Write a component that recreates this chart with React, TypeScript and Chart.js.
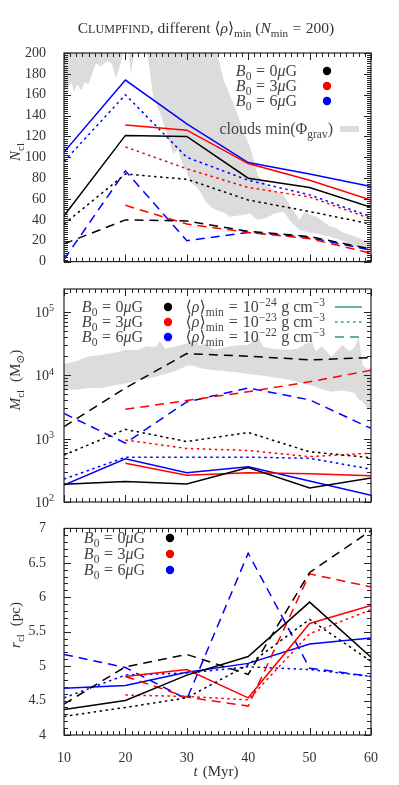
import React, { useEffect, useRef } from 'react';
import { Chart, registerables } from 'chart.js';
Chart.register(...registerables);

// ---------- data ----------
const T = [10, 20, 30, 40, 50, 60];
const B_LABELS = ['0', '3', '6'];
const B_COLORS = ['#000000', '#ff0000', '#0000ff'];
const RHO_EXP = ['24', '23', '22'];

// Panel 1: N_cl  (low = 1e-24, mid = 1e-23, high = 1e-22)
const N_B0_low = [44, 121, 120, 80, 71, 52];
const N_B3_low = [null, 131, 126, 94, 78, 59];
const N_B6_low = [105, 174, 132, 95, 84, 72];
const N_B0_mid = [36, 84, 79, 59, 48, 36];
const N_B3_mid = [null, 110, 89, 71, 62, 41];
const N_B6_mid = [96, 160, 100, 78, 64, 43];
const N_B0_high = [17, 40, 39, 29, 24, 12];
const N_B3_high = [null, 54, 36, 28, 22, 8];
const N_B6_high = [2, 87, 20, 28, 23, 11];

const cloud1T = [10, 10.4, 10.8, 11.2, 11.6, 12.2, 12.8, 13.4, 14, 14.6, 15.2, 16, 17, 17.8, 18.4, 19, 19.5, 20, 20.5, 20.9, 21.3, 21.7, 23.2, 23.7, 24.5, 25.6, 26.8, 27.8, 28.5, 29.2, 30, 30.8, 31.5, 32.3, 33, 34, 34.6, 35, 36, 37, 38.2, 39.2, 40.3, 41, 41.6, 43, 44.3, 45.7, 47, 48.4, 49.2, 50, 51.2, 52.3, 53.3, 54.4, 55.4, 57, 58.7, 60];
const cloud1Lo = [175, 158, 168, 172, 163, 170, 164, 172, 170, 180, 190, 187, 192, 190, 176, 185, 197, 205, 200, 180, 195, 205, 205, 196, 158, 143, 122, 103, 108, 95, 85, 75, 72, 66, 58, 52, 50, 49, 47, 43, 44, 45, 46, 42, 40, 42, 46, 48, 38, 30, 29, 28, 27, 25, 24, 22, 20, 15, 12, 10];
const cloud1Hi = [230, 230, 230, 230, 230, 230, 230, 230, 230, 230, 230, 230, 230, 230, 230, 230, 230, 230, 230, 230, 230, 230, 230, 230, 230, 230, 230, 230, 230, 230, 230, 230, 230, 230, 230, 230, 215, 198, 174, 160, 143, 125, 110, 95, 82, 74, 68, 64, 52, 40, 48, 45, 43, 38, 34, 32, 28, 25, 21, 19];

// Panel 2: M_cl (Msun)
const M_B0_low = [190, 210, 192, 350, 166, 240];
const M_B3_low = [null, 410, 265, 290, 280, 260];
const M_B6_low = [185, 480, 290, 360, 215, 128];
const M_B0_mid = [550, 1400, 900, 1250, 620, 500];
const M_B3_mid = [null, 950, 700, 650, 520, 590];
const M_B6_mid = [230, 510, 510, 510, 490, 330];
const M_B0_high = [1550, 6300, 22000, 20000, 17500, 19000];
const M_B3_high = [null, 2900, 4000, 5500, 7900, 12000];
const M_B6_high = [2500, 850, 3800, 6300, 4100, 1450];

const cloud2T = [10, 12, 14, 16, 18, 20, 22, 23.5, 25, 25.6, 26.5, 28, 30, 31.2, 32, 33, 34.5, 36, 38, 40, 41.6, 42.5, 44, 46, 48, 49.5, 50.4, 51, 52, 53.6, 55.3, 56.5, 57.3, 58, 58.7, 59.4, 60];
const cloud2Lo = [5900, 5900, 6300, 6300, 6900, 7400, 8300, 8900, 9500, 10000, 10500, 11500, 14100, 14100, 13200, 12600, 12000, 11700, 11200, 10500, 10000, 9800, 9300, 8700, 7900, 7200, 6900, 6600, 6000, 5500, 5750, 5500, 5250, 4200, 3800, 3000, 3150];
const cloud2Hi = [15100, 16600, 20000, 20900, 22400, 25100, 25100, 28800, 28200, 34700, 26300, 28200, 31600, 38000, 29500, 31600, 25100, 27500, 29500, 30200, 39800, 28200, 26300, 25100, 26300, 31600, 33100, 24000, 28800, 19500, 30200, 24000, 27500, 39800, 14100, 12600, 13200];

// Panel 3: r_cl (pc)
const R_B0_low = [4.37, 4.5, 4.87, 5.14, 5.93, 5.13];
const R_B3_low = [null, 4.85, 4.95, 4.54, 5.62, 5.88];
const R_B6_low = [4.68, 4.72, 4.91, 5.04, 5.32, 5.41];
const R_B0_mid = [4.27, 4.4, 4.54, 5.02, 5.68, 5.07];
const R_B3_mid = [null, 4.58, 4.56, 4.51, 5.47, 5.82];
const R_B6_mid = [4.54, 4.87, 4.9, 4.99, 4.95, 4.85];
const R_B0_high = [4.45, 4.99, 5.17, 4.88, 6.36, 6.97];
const R_B3_high = [null, 4.85, 4.55, 4.42, 6.34, 6.15];
const R_B6_high = [5.17, 4.98, 4.52, 6.64, 4.97, 4.85];

// ---------- styling ----------
const FONT = '"Liberation Serif", "DejaVu Serif", serif';
const TXT = '#333333';
const LEG = '#444444';
const GRAY = '#dcdcdc';
const GREEN = '#2e9a6c';
const SOLID: number[] = [];
const DOTTED = [2.5, 3.5];
const DASHED = [9, 6];
const LEG_SIZE = 16;

type Seg = { t: string; it?: boolean; sub?: boolean; sup?: boolean; sc?: boolean; dx?: number };

function segFont(s: Seg, size: number) {
  let fs = size;
  if (s.sub || s.sup) fs = size * 0.72;
  if (s.sc) fs = size * 0.78;
  return {
    font: `${s.it ? 'italic ' : ''}${fs}px ${FONT}`,
    dy: s.sub ? size * 0.28 : s.sup ? -size * 0.4 : 0,
  };
}

function drawRich(ctx: CanvasRenderingContext2D, segs: Seg[], x: number, y: number, size: number, align: string, color: string) {
  let w = 0;
  for (const s of segs) {
    ctx.font = segFont(s, size).font;
    w += ctx.measureText(s.t).width + (s.dx || 0);
  }
  let cx = align === 'right' ? x - w : align === 'center' ? x - w / 2 : x;
  ctx.fillStyle = color;
  ctx.textAlign = 'left';
  ctx.textBaseline = 'alphabetic';
  for (const s of segs) {
    const f = segFont(s, size);
    ctx.font = f.font;
    cx += s.dx || 0;
    ctx.fillText(s.t, cx, y + f.dy);
    cx += ctx.measureText(s.t).width;
  }
}

function drawRotated(ctx: CanvasRenderingContext2D, segs: Seg[], x: number, y: number, size: number, color: string) {
  ctx.save();
  ctx.translate(x, y);
  ctx.rotate(-Math.PI / 2);
  drawRich(ctx, segs, 0, 0, size, 'center', color);
  ctx.restore();
}

const bLabel = (b: string): Seg[] => [
  { t: 'B', it: true }, { t: '0', sub: true }, { t: '=', dx: 4.5 }, { t: b, dx: 4.5 }, { t: 'μ', it: true }, { t: 'G' },
];
const rhoLabel = (e: string): Seg[] => [
  { t: '⟨' }, { t: 'ρ', it: true }, { t: '⟩' }, { t: 'min', sub: true }, { t: '=', dx: 5 }, { t: '10', dx: 5 },
  { t: '−' + e, sup: true }, { t: 'g', dx: 4.5 }, { t: 'cm', dx: 4 }, { t: '−3', sup: true },
];
const TITLE: Seg[] = [
  { t: 'C' }, { t: 'LUMPFIND', sc: true }, { t: ', different ⟨' }, { t: 'ρ', it: true }, { t: '⟩' }, { t: 'min', sub: true },
  { t: ' (' }, { t: 'N', it: true }, { t: 'min', sub: true }, { t: '=', dx: 4.5 }, { t: '200)', dx: 4.5 },
];

function dot(ctx: CanvasRenderingContext2D, x: number, y: number, c: string) {
  ctx.fillStyle = c;
  ctx.beginPath();
  ctx.arc(x, y, 4.2, 0, Math.PI * 2);
  ctx.fill();
}

function framePlugin(id: string, opt: { yMajor?: number; yMinor?: number; log?: boolean }, extra: (ctx: CanvasRenderingContext2D, chart: any) => void) {
  return {
    id,
    afterDraw(chart: any) {
      const ctx: CanvasRenderingContext2D = chart.ctx;
      const a = chart.chartArea;
      const xs = chart.scales.x;
      const ys = chart.scales.y;
      ctx.save();
      ctx.strokeStyle = '#222';
      ctx.lineWidth = 1;
      ctx.beginPath();
      for (let i = 0; i <= 50; i++) {
        const px = Math.round(xs.getPixelForValue(10 + i)) + 0.5;
        const L = i % 10 === 0 ? 7 : 4;
        ctx.moveTo(px, a.bottom); ctx.lineTo(px, a.bottom - L);
        ctx.moveTo(px, a.top); ctx.lineTo(px, a.top + L);
      }
      const yt: [number, boolean][] = [];
      if (opt.log) {
        for (let d = 2; d <= 5; d++) for (let k = 1; k <= 9; k++) {
          const v = k * Math.pow(10, d);
          if (v <= ys.max) yt.push([v, k === 1]);
        }
      } else {
        const n = Math.round((ys.max - ys.min) / opt.yMinor!);
        const per = Math.round(opt.yMajor! / opt.yMinor!);
        for (let i = 0; i <= n; i++) yt.push([ys.min + i * opt.yMinor!, i % per === 0]);
      }
      for (const [v, maj] of yt) {
        const py = Math.round(ys.getPixelForValue(v)) + 0.5;
        const L = maj ? 7 : 4;
        ctx.moveTo(a.left, py); ctx.lineTo(a.left + L, py);
        ctx.moveTo(a.right, py); ctx.lineTo(a.right - L, py);
      }
      ctx.stroke();
      ctx.lineWidth = 1.2;
      ctx.strokeRect(a.left, a.top, a.right - a.left, a.bottom - a.top);
      extra(ctx, chart);
      ctx.restore();
    },
  };
}

function lineDS(vals: (number | null)[], color: string, dash: number[]) {
  const pts: { x: number; y: number }[] = [];
  T.forEach((x, i) => { const v = vals[i]; if (v !== null && v !== undefined) pts.push({ x, y: v }); });
  return {
    data: pts, borderColor: color, borderWidth: 1.5, borderDash: dash, borderCapStyle: 'butt',
    pointRadius: 0, fill: false, tension: 0, order: 1,
  };
}

function bandDS(ts: number[], lo: number[], hi: number[]) {
  return [
    { data: ts.map((x, i) => ({ x, y: hi[i] })), borderColor: 'rgba(0,0,0,0)', borderWidth: 0, pointRadius: 0, fill: false, order: 5 },
    { data: ts.map((x, i) => ({ x, y: lo[i] })), borderColor: 'rgba(0,0,0,0)', borderWidth: 0, pointRadius: 0, fill: '-1', backgroundColor: GRAY, order: 5 },
  ];
}

function allLines(low: (number | null)[][], mid: (number | null)[][], high: (number | null)[][]) {
  const out: any[] = [];
  for (let b = 0; b < 3; b++) {
    out.push(lineDS(low[b], B_COLORS[b], SOLID));
    out.push(lineDS(mid[b], B_COLORS[b], DOTTED));
    out.push(lineDS(high[b], B_COLORS[b], DASHED));
  }
  return out;
}

const tickFont = { family: FONT, size: 14 };

function baseOpts(padding: any, x: any, y: any) {
  return {
    animation: false, responsive: false, maintainAspectRatio: false, devicePixelRatio: 1,
    layout: { padding },
    plugins: { legend: { display: false }, tooltip: { enabled: false } },
    scales: { x, y },
  };
}

const yWidth = (s: any) => { s.width = 64; };

function cfg1(): any {
  return {
    type: 'line',
    data: { datasets: [...bandDS(cloud1T, cloud1Lo, cloud1Hi), ...allLines([N_B0_low, N_B3_low, N_B6_low], [N_B0_mid, N_B3_mid, N_B6_mid], [N_B0_high, N_B3_high, N_B6_high])] },
    options: baseOpts(
      { left: 0, right: 28, top: 53, bottom: 10 },
      { type: 'linear', min: 10, max: 60, display: false },
      { type: 'linear', min: 0, max: 200, grid: { display: false }, border: { display: false }, ticks: { stepSize: 20, font: tickFont, color: TXT, padding: 10 }, afterFit: yWidth },
    ),
    plugins: [framePlugin('frame1', { yMajor: 20, yMinor: 2 }, (ctx) => {
      drawRich(ctx, TITLE, 206, 33, 15.5, 'center', TXT);
      drawRotated(ctx, [{ t: 'N', it: true }, { t: 'cl', sub: true }], 20, 152, 15, TXT);
      B_LABELS.forEach((b, i) => {
        const yy = 71 + i * 15;
        drawRich(ctx, bLabel(b), 297, yy + 5, LEG_SIZE, 'right', LEG);
        dot(ctx, 327, yy, B_COLORS[i]);
      });
      drawRich(ctx, [{ t: 'clouds min(Φ' }, { t: 'grav', sub: true }, { t: ')' }], 333, 134, LEG_SIZE, 'right', LEG);
      ctx.fillStyle = GRAY;
      ctx.fillRect(340, 126, 19, 6);
    })],
  };
}

function cfg2(): any {
  return {
    type: 'line',
    data: { datasets: [...bandDS(cloud2T, cloud2Lo, cloud2Hi), ...allLines([M_B0_low, M_B3_low, M_B6_low], [M_B0_mid, M_B3_mid, M_B6_mid], [M_B0_high, M_B3_high, M_B6_high])] },
    options: baseOpts(
      { left: 0, right: 28, top: 9, bottom: 8 },
      { type: 'linear', min: 10, max: 60, display: false },
      { type: 'logarithmic', min: 100, max: 230000, grid: { display: false }, border: { display: false }, ticks: { display: false }, afterFit: yWidth },
    ),
    plugins: [framePlugin('frame2', { log: true }, (ctx, chart) => {
      const ys = chart.scales.y;
      [2, 3, 4, 5].forEach((d) => {
        const py = ys.getPixelForValue(Math.pow(10, d));
        drawRich(ctx, [{ t: '10' }, { t: String(d), sup: true }], 54, py + 5, 14, 'right', TXT);
      });
      drawRotated(ctx, [{ t: 'M', it: true }, { t: 'cl', sub: true }, { t: '(M', dx: 8 }, { t: '⊙', sub: true }, { t: ')' }], 20, 100, 15, TXT);
      B_LABELS.forEach((b, i) => {
        const yy = 27 + i * 15;
        drawRich(ctx, bLabel(b), 143, yy + 5, LEG_SIZE, 'right', LEG);
        dot(ctx, 168, yy, B_COLORS[i]);
      });
      const dashes = [SOLID, DOTTED, DASHED];
      RHO_EXP.forEach((e, i) => {
        const yy = 27 + i * 15;
        drawRich(ctx, rhoLabel(e), 325, yy + 5, LEG_SIZE, 'right', LEG);
        ctx.strokeStyle = GREEN;
        ctx.lineWidth = 1.5;
        ctx.setLineDash(dashes[i]);
        ctx.beginPath();
        ctx.moveTo(335, yy); ctx.lineTo(362, yy);
        ctx.stroke();
        ctx.setLineDash([]);
      });
    })],
  };
}

function cfg3(): any {
  return {
    type: 'line',
    data: { datasets: allLines([R_B0_low, R_B3_low, R_B6_low], [R_B0_mid, R_B3_mid, R_B6_mid], [R_B0_high, R_B3_high, R_B6_high]) },
    options: baseOpts(
      { left: 0, right: 28, top: 11, bottom: 0 },
      { type: 'linear', min: 10, max: 60, grid: { display: false }, border: { display: false }, ticks: { stepSize: 10, font: tickFont, color: TXT, padding: 7 }, afterFit: (s: any) => { s.height = 50; } },
      { type: 'linear', min: 4, max: 7, grid: { display: false }, border: { display: false }, ticks: { stepSize: 0.5, font: tickFont, color: TXT, padding: 10, callback: (v: any) => String(v) }, afterFit: yWidth },
    ),
    plugins: [framePlugin('frame3', { yMajor: 0.5, yMinor: 0.1 }, (ctx) => {
      drawRotated(ctx, [{ t: 'r', it: true }, { t: 'cl', sub: true }, { t: '(pc)', dx: 8 }], 20, 115, 15, TXT);
      drawRich(ctx, [{ t: 't', it: true }, { t: '(Myr)', dx: 5 }], 216, 266, 15, 'center', TXT);
      B_LABELS.forEach((b, i) => {
        const yy = 28 + i * 16;
        drawRich(ctx, bLabel(b), 145, yy + 5, LEG_SIZE, 'right', LEG);
        dot(ctx, 170, yy, B_COLORS[i]);
      });
    })],
  };
}

export default function App() {
  const r1 = useRef<HTMLCanvasElement>(null);
  const r2 = useRef<HTMLCanvasElement>(null);
  const r3 = useRef<HTMLCanvasElement>(null);
  useEffect(() => {
    const charts = [new Chart(r1.current!, cfg1()), new Chart(r2.current!, cfg2()), new Chart(r3.current!, cfg3())];
    return () => charts.forEach((c) => c.destroy());
  }, []);
  return (
    <div style={{ position: 'absolute', left: 0, top: 0, width: 399, height: 785, background: '#ffffff' }}>
      <canvas ref={r1} width={399} height={280} style={{ position: 'absolute', left: 0, top: 0 }} />
      <canvas ref={r2} width={399} height={230} style={{ position: 'absolute', left: 0, top: 280 }} />
      <canvas ref={r3} width={399} height={275} style={{ position: 'absolute', left: 0, top: 510 }} />
    </div>
  );
}
